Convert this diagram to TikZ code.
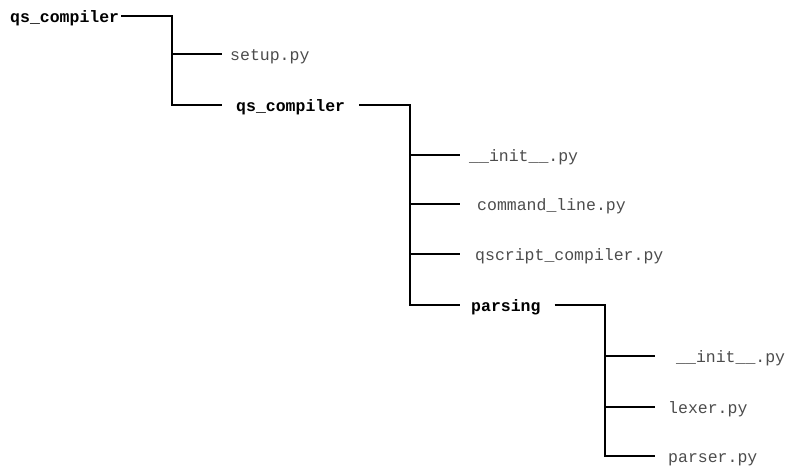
\documentclass[tikz,border=0pt]{standalone}
\usepackage{fontspec}
\setmonofont{Liberation Mono}
\usetikzlibrary{positioning}

\tikzset{
  entry/.style={anchor=west, inner sep=0pt, text height=13pt, text depth=0pt, font=\fontsize{16.5}{18}\ttfamily},
  dir/.style={entry, font=\fontsize{16.5}{18}\ttfamily\bfseries},
  file/.style={entry, text=black!70},
  tree/.style={line width=1.1pt}
}

\begin{document}
\begin{tikzpicture}[x=1pt, y=-1pt]
\useasboundingbox (0,0) rectangle (787,468);
% top level
\node[dir] (root) at (10,16) {qs\_compiler};
\node[file] (setup) at (230,54) {setup.py};
\node[dir] (pkg) at (236,105) {qs\_compiler};
% package
\node[file] (init) at (469,155) {\_\_init\_\_.py};
\node[file] (cli) at (477,204) {command\_line.py};
\node[file] (qsc) at (475,254) {qscript\_compiler.py};
\node[dir] (parsing) at (471,305) {parsing};
% parsing
\node[file] (pinit) at (676,356) {\_\_init\_\_.py};
\node[file] (lexer) at (668,407) {lexer.py};
\node[file] (parser) at (668,456) {parser.py};
% spines
\coordinate (s1) at (172,105);
\coordinate (s2) at (410,305);
\coordinate (s3) at (605,456);
\draw[tree] ([xshift=2pt]root.east) -| (s1) -- ([xshift=-14pt]pkg.west);
\draw[tree] (s1 |- setup.west) -- ([xshift=-8pt]setup.west);
\draw[tree] ([xshift=14pt]pkg.east) -| (s2) -- ([xshift=-11pt]parsing.west);
\draw[tree] (s2 |- init.west) -- ([xshift=-9pt]init.west);
\draw[tree] (s2 |- cli.west) -- ([xshift=-17pt]cli.west);
\draw[tree] (s2 |- qsc.west) -- ([xshift=-15pt]qsc.west);
\draw[tree] ([xshift=14pt]parsing.east) -| (s3) -- ([xshift=-13pt]parser.west);
\draw[tree] (s3 |- pinit.west) -- ([xshift=-21pt]pinit.west);
\draw[tree] (s3 |- lexer.west) -- ([xshift=-13pt]lexer.west);
\end{tikzpicture}
\end{document}
